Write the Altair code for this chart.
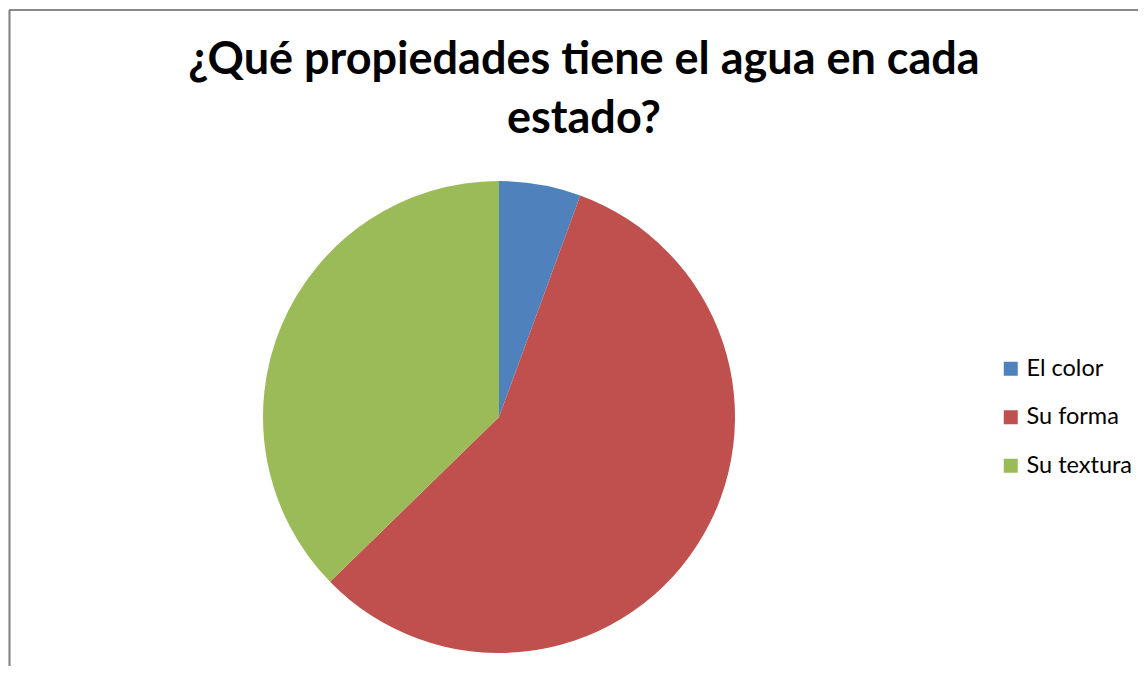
import altair as alt
import pandas as pd

categories = ["El color", "Su forma", "Su textura"]
values = [5.6, 57.1, 37.3]
colors = ["#4F81BD", "#C0504D", "#9BBB59"]
order = [1, 2, 3]

df = pd.DataFrame({"cat": categories, "val": values, "ord": order})

pie = alt.Chart(df).mark_arc(outerRadius=236, stroke=None).encode(
    theta=alt.Theta("val:Q", stack=True),
    order=alt.Order("ord:Q"),
    color=alt.Color(
        "cat:N",
        scale=alt.Scale(domain=categories, range=colors),
        legend=alt.Legend(
            title=None, orient="none", legendX=991, legendY=179,
            symbolType="square", symbolSize=196, symbolStrokeWidth=0,
            labelFont="Lato", labelFontSize=23.5, labelColor="#000000",
            labelOffset=4, rowPadding=23.5,
        ),
    ),
)

frame_left = alt.Chart(df).mark_rule(color="#878787", strokeWidth=1.5).encode(
    x=alt.value(1.5), y=alt.value(-168), y2=alt.value(700)
)
frame_top = alt.Chart(df).mark_rule(color="#878787", strokeWidth=1.5).encode(
    x=alt.value(1), x2=alt.value(1200), y=alt.value(-168)
)

chart = alt.layer(pie, frame_left, frame_top).properties(
    width=982, height=478,
    padding={"left": 0, "top": 170, "right": 148, "bottom": 10},
    autosize=alt.AutoSizeParams(type="none"),
    title=alt.TitleParams(
        text=["¿Qué propiedades tiene el agua en cada", "estado?"],
        font="Lato", fontSize=45, fontWeight="bold", color="#000000",
        anchor="middle", lineHeight=59, offset=35, dx=85, dy=168,
    ),
).configure_view(stroke=None)

chart.save("out.html", embed_options={"renderer": "svg", "actions": False})
